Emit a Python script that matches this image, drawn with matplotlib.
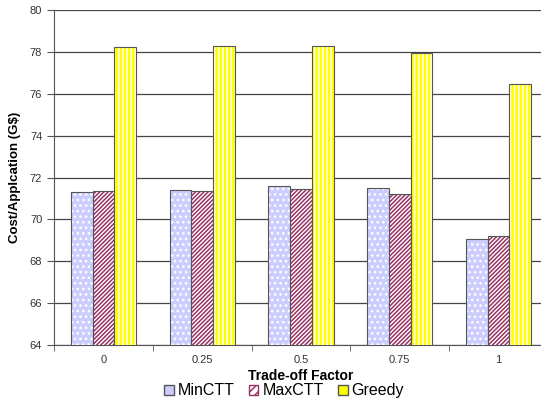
import numpy as np
import matplotlib
matplotlib.use("Agg")
import matplotlib.pyplot as plt
from matplotlib.patches import Patch

factors = ["0", "0.25", "0.5", "0.75", "1"]
min_ctt = [71.3, 71.4, 71.6, 71.5, 69.05]
max_ctt = [71.35, 71.35, 71.45, 71.2, 69.22]
greedy = [78.25, 78.3, 78.3, 77.95, 76.45]

series = [
    ("MinCTT", min_ctt, "#ccccff", "white", "..."),
    ("MaxCTT", max_ctt, "white", "#993366", "////////"),
    ("Greedy", greedy, "#ffff00", "white", "||||"),
]

plt.rcParams["font.family"] = ["Liberation Sans", "DejaVu Sans"]
plt.rcParams["hatch.linewidth"] = 1.1

fig = plt.figure(figsize=(5.41, 4.05), dpi=100)
ax = fig.add_axes([54 / 541, 1 - 345 / 405, 494 / 541, 335 / 405])

x = np.arange(len(factors))
w = 0.22
for i, (name, vals, face, hcol, hatch) in enumerate(series):
    xs = x + (i - 1) * w
    ax.bar(xs, vals, w, color=face, edgecolor=hcol, hatch=hatch, linewidth=0, zorder=3)
    ax.bar(xs, vals, w, fill=False, edgecolor="#555555", linewidth=0.8, zorder=4)

ax.set_ylim(64, 80)
ax.set_yticks(np.arange(64, 81, 2))
ax.set_xlim(-0.5, len(factors) - 0.5)
ax.set_xticks(x)
ax.set_xticklabels(factors)
ax.set_xticks(np.arange(-0.5, len(factors), 1), minor=True)
ax.tick_params(axis="x", which="major", length=0, labelsize=8, colors="#333333", pad=7)
ax.tick_params(axis="x", which="minor", length=4, color="#555555", direction="out")
ax.tick_params(axis="y", length=5, labelsize=8, direction="out",
               colors="#555555", labelcolor="#333333")
ax.yaxis.grid(True, color="#444444", linewidth=0.9, zorder=1)
ax.set_axisbelow(True)
for s in ["top", "right"]:
    ax.spines[s].set_visible(False)
ax.spines["left"].set_color("#555555")
ax.spines["bottom"].set_color("#555555")

ax.set_xlabel("Trade-off Factor", fontsize=10, fontweight="bold", labelpad=3)
ax.set_ylabel("Cost/Applcation (G$)", fontsize=9.5, fontweight="bold", labelpad=6)

handles = [
    Patch(facecolor="#ccccff", edgecolor="#555555", label="MinCTT"),
    Patch(facecolor="white", edgecolor="#993366", hatch="////", label="MaxCTT"),
    Patch(facecolor="#ffff00", edgecolor="#555555", label="Greedy"),
]
fig.legend(handles=handles, loc="center", bbox_to_anchor=(0.525, 0.035), ncol=3,
           frameon=False, fontsize=11.5, handlelength=0.6, handleheight=0.6,
           handletextpad=0.25, columnspacing=0.9, borderaxespad=0)

fig.savefig("out.png", dpi=100)
